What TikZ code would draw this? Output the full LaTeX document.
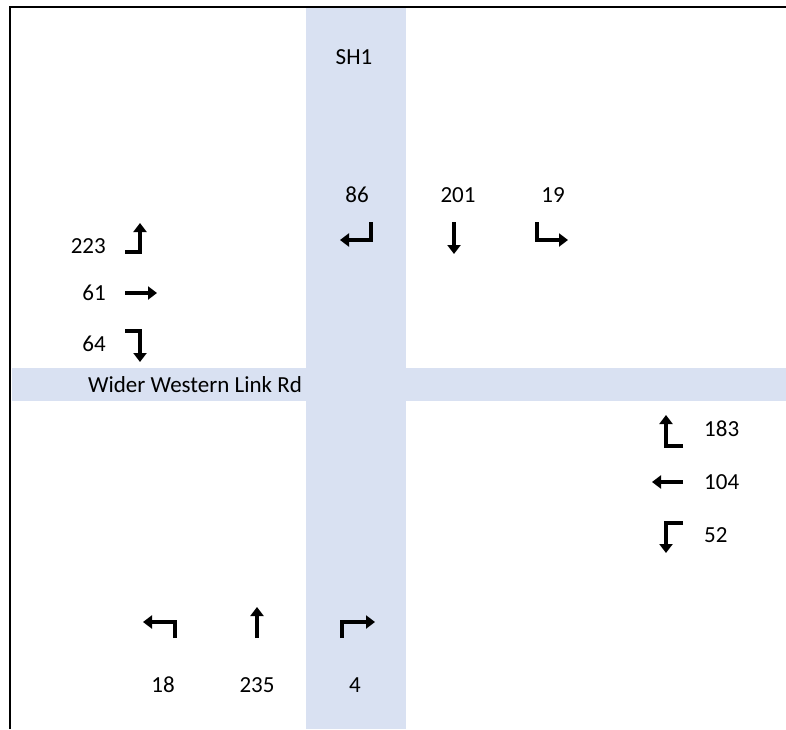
\documentclass[tikz,border=0pt]{standalone}
\usepackage{fontspec}
\setmainfont{Carlito}
\usetikzlibrary{arrows.meta}
\definecolor{roadblue}{HTML}{D9E1F2}

\begin{document}
\begin{tikzpicture}[x=1pt,y=-1pt,
  lbl/.style={font=\fontsize{23}{27}\selectfont, inner sep=0pt},
  turn/.style={line width=3.3pt, -{Triangle[length=9pt,width=13pt]}}]
\useasboundingbox (0,0) rectangle (786,729);
% roads
\fill[roadblue] (306,8) rectangle (406,729);
\fill[roadblue] (12,368) rectangle (786,401);
% frame
\draw[line width=1.8pt] (10,729) -- (10,7) -- (786,7);
% road names
\node[lbl] (sh1) at (354,57) {SH1};
\node[lbl] (wwl) at (195,385) {Wider Western Link Rd};
% west approach
\node[lbl, anchor=east] (w223) at (106,246) {223};
\node[lbl, anchor=east] (w61) at (106,293) {61};
\node[lbl, anchor=east] (w64) at (106,344) {64};
\draw[turn] (125,252) -- (140,252) -- (140,223);
\draw[turn] (125,293) -- (157,293);
\draw[turn] (125,331) -- (140,331) -- (140,362);
% north approach
\node[lbl] (n86) at (357,195) {86};
\node[lbl] (n201) at (458,195) {201};
\node[lbl] (n19) at (553,195) {19};
\draw[turn] (371,222) -- (371,240) -- (340,240);
\draw[turn] (454,222) -- (454,254);
\draw[turn] (537,222) -- (537,240) -- (568,240);
% east approach
\node[lbl, anchor=west] (e183) at (704,429) {183};
\node[lbl, anchor=west] (e104) at (704,482) {104};
\node[lbl, anchor=west] (e52) at (704,535) {52};
\draw[turn] (683,446) -- (666,446) -- (666,415);
\draw[turn] (683,482) -- (652,482);
\draw[turn] (683,523) -- (666,523) -- (666,553);
% south approach
\node[lbl] (s18) at (163,685) {18};
\node[lbl] (s235) at (257,685) {235};
\node[lbl] (s4) at (355,685) {4};
\draw[turn] (175,638) -- (175,622) -- (143,622);
\draw[turn] (257,638) -- (257,607);
\draw[turn] (342,638) -- (342,622) -- (375,622);
\end{tikzpicture}
\end{document}
